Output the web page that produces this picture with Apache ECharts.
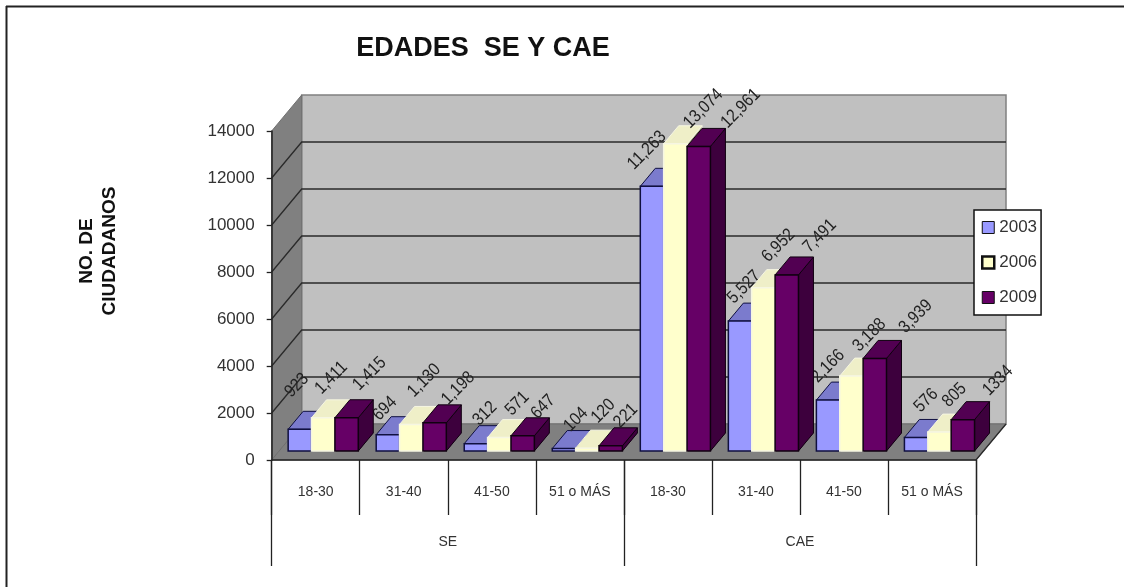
<!DOCTYPE html>
<html><head><meta charset="utf-8">
<style>html,body{margin:0;padding:0;background:#fff}#c{width:1124px;height:587px}</style>
<script src="https://cdn.jsdelivr.net/npm/echarts@6/dist/echarts.min.js"></script>
</head><body><div id="c"></div>
<script>
const ageGroups = ['18-30','31-40','41-50','51 o MÁS','18-30','31-40','41-50','51 o MÁS'];
const sections = ['SE','CAE'];
const yTicks = [0,2000,4000,6000,8000,10000,12000,14000];
const v2003 = [923,694,312,104,11263,5527,2166,576];
const v2006 = [1411,1130,571,120,13074,6952,3188,805];
const v2009 = [1415,1198,647,221,12961,7491,3939,1334];
const labels2003 = ['923','694','312','104','11,263','5,527','2,166','576'];
const labels2006 = ['1,411','1,130','571','120','13,074','6,952','3,188','805'];
const labels2009 = ['1,415','1,198','647','221','12,961','7,491','3,939','1334'];
// hand-placed label offsets from each bar's top centre
const nudge2003 = [[-3,-44],[-3,-26],[9,-30],[12,-29],[-5,-36],[4,-34],[0,-34],[10,-37]];
const nudge2006 = [[8,-40],[13,-44],[18,-34],[16,-37],[28,-35],[15,-42],[18,-41],[15,-37]];
const nudge2009 = [[23,-44],[23.5,-34.5],[20.5,-29],[15,-30],[42,-38],[33,-39],[41,-42],[35,-39]];

const FONT = '"Liberation Sans", Arial, sans-serif';
const WALL_DX = 30, WALL_DY = -36;      // full chart depth
const BAR_DX = 15, BAR_DY = -18;        // bar depth
const BAR_OX = 7.5, BAR_OY = -9;        // bars sit a quarter of the way in
const palettes = [
  {front:'#9999ff', top:'#7b7bcd', side:'#4d4d80', stroke:'#101040'},
  {front:'#ffffcc', top:'#efefc8', side:'#b0b090', stroke:'#f6f6e2'},
  {front:'#660066', top:'#520052', side:'#3d003d', stroke:'#100010'}
];
function poly(points, fill, stroke, lw){
  return {type:'polygon', shape:{points}, style:{fill, stroke:stroke||null, lineWidth:lw||0}};
}
function barSeries(name, values, labels, nudges, s){
  const pal = palettes[s];
  return {
    name, type:'custom', xAxisIndex:0, yAxisIndex:0, z:5+s,
    data: values.map((v,i)=>[i,v]),
    itemStyle:{color:pal.front, borderColor:'#000', borderWidth:1},
    renderItem(params, api){
      const i = api.value(0), v = api.value(1);
      const band = api.size([1,0])[0];
      const top = api.coord([i,v]), base = api.coord([i,0]);
      const w = band*0.2655;
      const cx = base[0] + BAR_OX + (s-1)*w;
      const x0 = cx-w/2, x1 = cx+w/2;
      const yb = base[1]+BAR_OY, yt = top[1]+BAR_OY;
      const n = nudges[i];
      return {type:'group', children:[
        poly([[x0,yb],[x1,yb],[x1+BAR_DX,yb+BAR_DY],[x0+BAR_DX,yb+BAR_DY]], pal.front),
        poly([[x1,yb],[x1,yt],[x1+BAR_DX,yt+BAR_DY],[x1+BAR_DX,yb+BAR_DY]], pal.side, pal.stroke, 1),
        poly([[x0,yt],[x1,yt],[x1+BAR_DX,yt+BAR_DY],[x0+BAR_DX,yt+BAR_DY]], pal.top, pal.stroke, 1),
        poly([[x0,yb],[x1,yb],[x1,yt],[x0,yt]], pal.front, pal.stroke, 1.5),
        {type:'text', z2:50, x:cx+n[0], y:yt+n[1], rotation:Math.PI/4, scaleY:1.15,
         style:{text:labels[i], fill:'#222', font:'15.5px '+FONT, align:'center', verticalAlign:'middle'}}
      ]};
    }
  };
}
const wallSeries = {
  type:'custom', z:1, silent:true, data:[[0,0]], xAxisIndex:0, yAxisIndex:0,
  renderItem(params, api){
    const cs = params.coordSys;
    const L = cs.x, R = cs.x+cs.width, T = cs.y, B = cs.y+cs.height;
    const kids = [
      poly([[L+WALL_DX,T+WALL_DY],[R+WALL_DX,T+WALL_DY],[R+WALL_DX,B+WALL_DY],[L+WALL_DX,B+WALL_DY]],'#c0c0c0','#808080',1.5),
      poly([[L,B],[L,T],[L+WALL_DX,T+WALL_DY],[L+WALL_DX,B+WALL_DY]],'#808080','#707070',1),
      poly([[L,B],[R,B],[R+WALL_DX,B+WALL_DY],[L+WALL_DX,B+WALL_DY]],'#808080','#707070',1)
    ];
    yTicks.forEach(t=>{
      const y = api.coord([0,t])[1];
      if (t===0 || t===14000) return;
      kids.push({type:'polyline', shape:{points:[[L,y],[L+WALL_DX,y+WALL_DY],[R+WALL_DX,y+WALL_DY]]},
        style:{fill:null, stroke:'#2a2a2a', lineWidth:1.3}});
    });
    kids.push({type:'line', shape:{x1:R,y1:B,x2:R+WALL_DX,y2:B+WALL_DY}, style:{stroke:'#2a2a2a',lineWidth:1.3}});
    return {type:'group', children:kids};
  }
};
const chart = echarts.init(document.getElementById('c'), null, {renderer:'canvas'});
chart.setOption({
  animation:false, backgroundColor:'#fff',
  title:{text:'EDADES  SE Y CAE', left:478, top:30, textAlign:'center',
    textStyle:{fontFamily:FONT, fontSize:27, fontWeight:'bold', color:'#111'}},
  legend:{
    orient:'vertical', left:974, top:210, padding:[9,4,9,7], itemGap:18,
    backgroundColor:'#fff', borderColor:'#111', borderWidth:1.5, itemWidth:12, itemHeight:12, itemTextGap:5, icon:'rect',
    textStyle:{fontFamily:FONT, fontSize:17, color:'#333'},
    data:[
      {name:'2003', itemStyle:{color:palettes[0].front, borderColor:'#111', borderWidth:1}},
      {name:'2006', itemStyle:{color:palettes[1].front, borderColor:'#111', borderWidth:2.5}},
      {name:'2009', itemStyle:{color:palettes[2].front, borderColor:'#111', borderWidth:1}}
    ]
  },
  grid:{left:271.7, top:131, width:704.3, height:329, containLabel:false},
  xAxis:[
    {type:'category', data:ageGroups, position:'bottom', z:4,
     axisLine:{lineStyle:{color:'#222',width:1.5}},
     axisTick:{show:true, alignWithLabel:false, length:55, lineStyle:{color:'#222',width:1.3}},
     axisLabel:{interval:0, margin:25, fontFamily:FONT, fontSize:14, color:'#333'}},
    {type:'category', data:sections, position:'bottom', z:4,
     axisLine:{show:false},
     axisTick:{show:true, alignWithLabel:false, length:106, lineStyle:{color:'#222',width:1.3}},
     axisLabel:{interval:0, margin:75, fontFamily:FONT, fontSize:14, color:'#333'}}
  ],
  yAxis:{type:'value', min:0, max:14000, interval:2000, z:4,
    axisLine:{show:true, lineStyle:{color:'#222',width:1.5}},
    axisTick:{show:true, length:5, lineStyle:{color:'#222',width:1.3}},
    splitLine:{show:false},
    axisLabel:{margin:17, fontFamily:FONT, fontSize:17, color:'#333', formatter:v=>String(v)}
  },
  graphic:[
    {type:'line', silent:true, shape:{x1:6,y1:6.5,x2:1124,y2:6.5}, style:{stroke:'#222',lineWidth:2}},
    {type:'line', silent:true, shape:{x1:6.5,y1:6,x2:6.5,y2:587}, style:{stroke:'#222',lineWidth:2}},
    {type:'text', silent:true, x:98, y:251, rotation:Math.PI/2,
     style:{text:'NO. DE\nCIUDADANOS', align:'center', verticalAlign:'middle', lineHeight:23,
            font:'bold 19px '+FONT, fill:'#111'}}
  ],
  series:[
    wallSeries,
    barSeries('2003', v2003, labels2003, nudge2003, 0),
    barSeries('2006', v2006, labels2006, nudge2006, 1),
    barSeries('2009', v2009, labels2009, nudge2009, 2)
  ]
});
</script></body></html>
